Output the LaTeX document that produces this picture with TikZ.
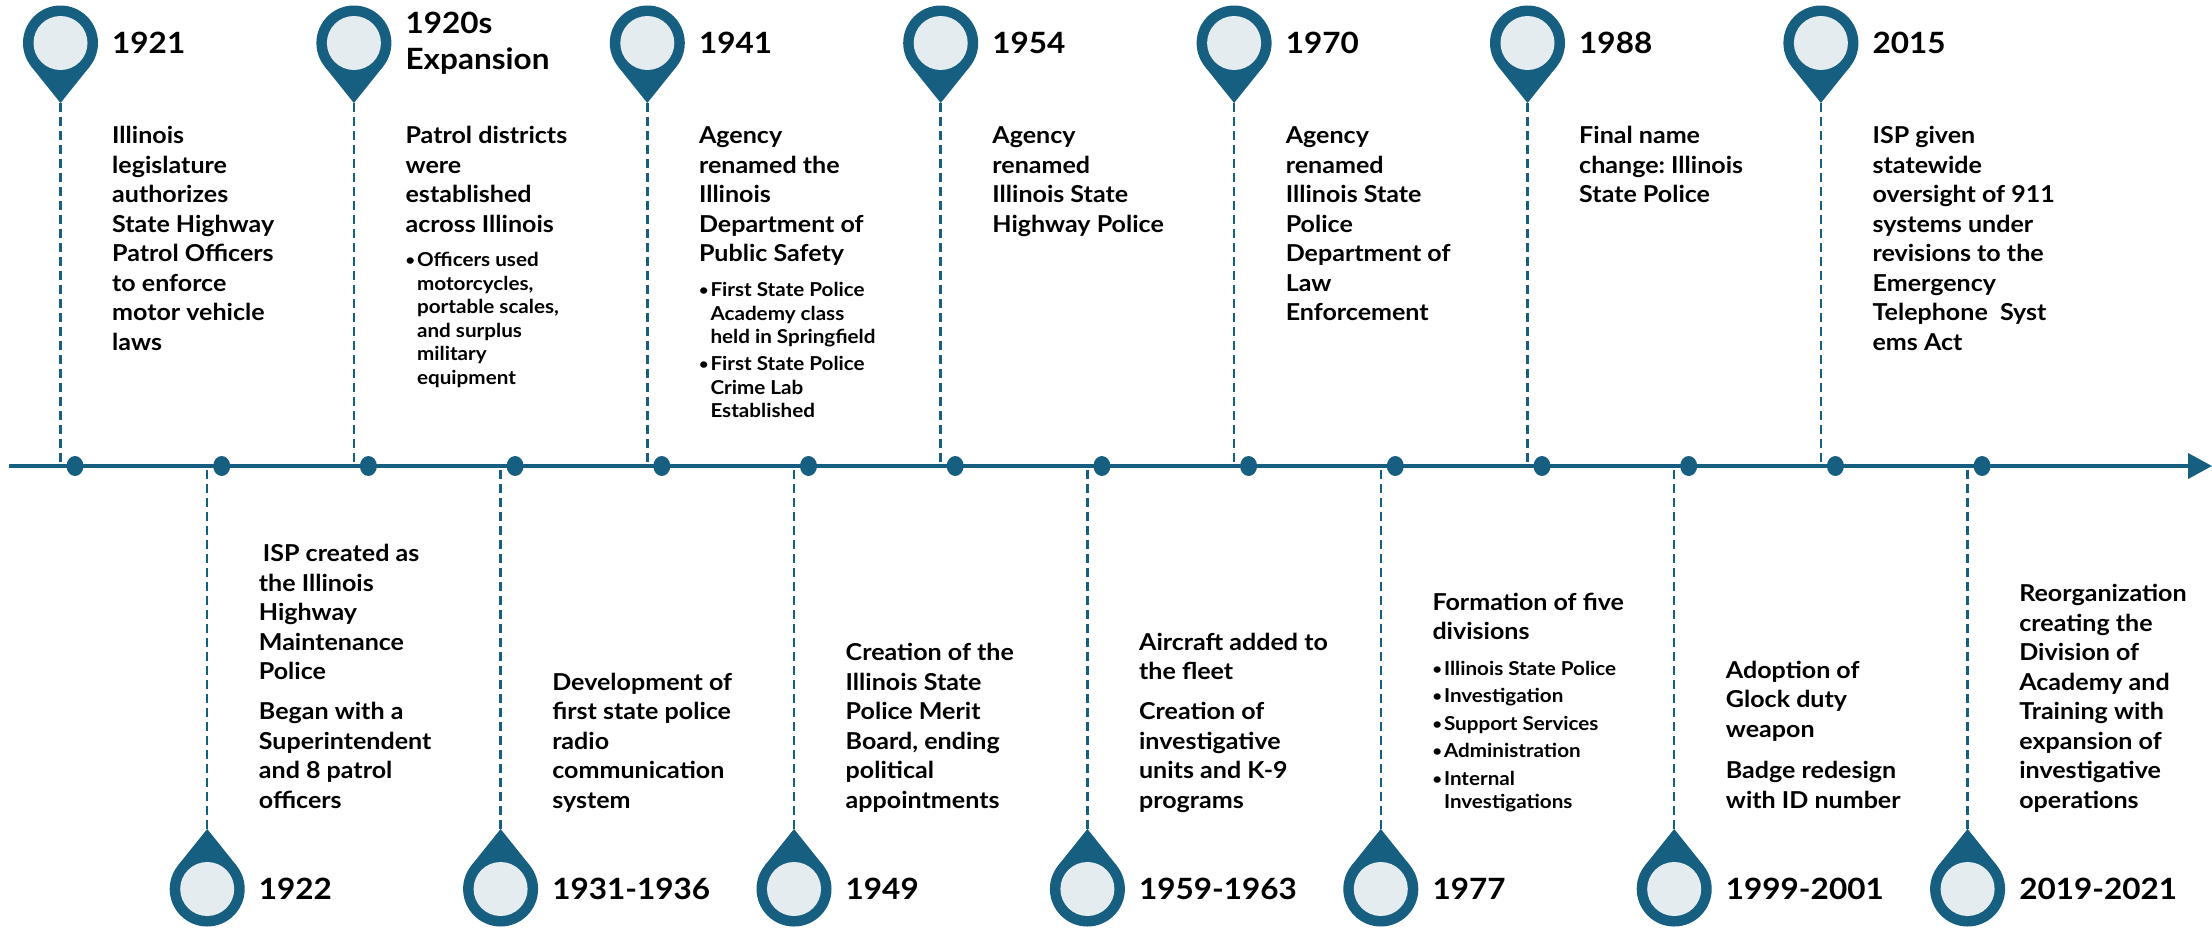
\documentclass[tikz,border=0pt]{standalone}
\usepackage{fontspec}
\setmainfont{Lato}[FakeStretch=1.075]
\frenchspacing
\usetikzlibrary{arrows.meta,shapes.geometric}
\definecolor{ispblue}{RGB}{23,95,128}
\definecolor{ispfill}{RGB}{229,236,240}
\newcommand\yrfont{\fontsize{29.3}{36}\selectfont\bfseries}
\newcommand\bdfont{\fontsize{23.3}{29.5}\selectfont\bfseries}
\newcommand\bufont{\fontsize{19.2}{23.5}\selectfont\bfseries}
\newcommand\bu{\makebox[11.5pt][l]{\raisebox{0.8pt}{\fontsize{15}{0}\selectfont\textbullet}}}
\newcommand\bi{\hspace*{11.5pt}}
\begin{document}
\begin{tikzpicture}[x=1pt,y=-1pt,
  yeartext/.style={anchor=base west,inner sep=0pt,align=left,font=\yrfont},
  bodytext/.style={anchor=base west,inner sep=0pt,align=left,font=\bdfont},
  bullettext/.style={anchor=base west,inner sep=0pt,align=left,font=\bufont},
  linkline/.style={draw=ispblue,line width=2.5pt,dash pattern=on 9pt off 5pt},
  tldot/.style={ellipse,fill=ispblue,minimum width=17pt,minimum height=20pt,inner sep=0pt}]
\useasboundingbox (0,0) rectangle (2212,930);
% main timeline
\coordinate (ls) at (9,466);
\coordinate (le) at (2212,466);
\draw[ispblue,line width=4pt,-{Triangle[length=24pt,width=25pt]}] (ls) -- (le);
% pins, connectors, dots
\foreach \i in {0,...,13}{
  \pgfmathsetmacro\px{60.5+146.7*\i}
  \pgfmathsetmacro\dx{75+146.7*\i}
  \pgfmathtruncatemacro\odd{mod(\i,2)}
  \ifnum\odd=0
    \def\cy{43}\def\dr{1}
  \else
    \def\cy{889}\def\dr{-1}
  \fi
  \pgfmathsetmacro\ty{\cy+60*\dr}
  \pgfmathsetmacro\tgy{\cy+23.44*\dr}
  \coordinate (c\i) at (\px,\cy);
  \coordinate (tip\i) at (\px,\ty);
  \coordinate (tl\i) at (\px-29.28,\tgy);
  \coordinate (tr\i) at (\px+29.28,\tgy);
  \coordinate (b\i) at (\px,466);
  \draw[linkline] (tip\i) -- (b\i);
  \fill[ispblue] (tip\i) -- (tl\i) -- (tr\i) -- cycle;
  \fill[ispblue] (c\i) circle[radius=37.5];
  \fill[ispfill] (c\i) circle[radius=27];
  \node[tldot] (d\i) at (\dx,466) {};
}
% ---------- years (x = pin + 51.5); anchors are at the LAST baseline
\node[yeartext] (y0) at (112,53.5) {1921};
\node[yeartext] (y2) at (405.4,69) {1920s\\Expansion};
\node[yeartext] (y4) at (698.8,53.5) {1941};
\node[yeartext] (y6) at (992.2,53.5) {1954};
\node[yeartext] (y8) at (1285.6,53.5) {1970};
\node[yeartext] (y10) at (1579,53.5) {1988};
\node[yeartext] (y12) at (1872.4,53.5) {2015};
\node[yeartext] (y1) at (258.7,899.5) {1922};
\node[yeartext] (y3) at (552.1,899.5) {1931-1936};
\node[yeartext] (y5) at (845.5,899.5) {1949};
\node[yeartext] (y7) at (1138.9,899.5) {1959-1963};
\node[yeartext] (y9) at (1432.3,899.5) {1977};
\node[yeartext] (y11) at (1725.7,899.5) {1999-2001};
\node[yeartext] (y13) at (2019.1,899.5) {2019-2021};
% ---------- top texts
\node[bodytext] (t0) at (112,350) {Illinois\\legislature\\authorizes\\State Highway\\Patrol Officers\\to enforce\\motor vehicle\\laws};
\node[bodytext] (t2) at (405.4,232) {Patrol districts\\were\\established\\across Illinois};
\node[bullettext] (u2) at (405.4,384) {\bu Officers used\\\bi motorcycles,\\\bi portable scales,\\\bi and surplus\\\bi military\\\bi equipment};
\node[bodytext] (t4) at (698.8,261.5) {Agency\\renamed the\\Illinois\\Department of\\Public Safety};
\node[bullettext] (u4) at (698.8,417.5) {\bu First State Police\\\bi Academy class\\\bi held in Springfield\\[3.5pt]\bu First State Police\\\bi Crime Lab\\\bi Established};
\node[bodytext] (t6) at (992.2,232) {Agency\\renamed\\Illinois State\\Highway Police};
\node[bodytext] (t8) at (1285.6,320.5) {Agency\\renamed\\Illinois State\\Police\\Department of\\Law\\Enforcement};
\node[bodytext] (t10) at (1579,202.5) {Final name\\change: Illinois\\State Police};
\node[bodytext] (t12) at (1872.4,350) {ISP given\\statewide\\oversight of 911\\systems under\\revisions to the\\Emergency\\Telephone~ Syst\\ems Act};
% ---------- bottom texts
\node[bodytext] (t1) at (258.7,679.5) {\hspace*{4pt}ISP created as\\the Illinois\\Highway\\Maintenance\\Police};
\node[bodytext] (s1) at (258.7,808.3) {Began with a\\Superintendent\\and 8 patrol\\officers};
\node[bodytext] (t3) at (552.1,808.3) {Development of\\first state police\\radio\\communication\\system};
\node[bodytext] (t5) at (845.5,808.3) {Creation of the\\Illinois State\\Police Merit\\Board, ending\\political\\appointments};
\node[bodytext] (t7) at (1138.9,679.8) {Aircraft added to\\the fleet};
\node[bodytext] (s7) at (1138.9,808.3) {Creation of\\investigative\\units and K-9\\programs};
\node[bodytext] (t9) at (1432.3,639.8) {Formation of five\\divisions};
\node[bullettext] (u9) at (1432.3,808.5) {\bu Illinois State Police\\[4pt]\bu Investigation\\[4pt]\bu Support Services\\[4pt]\bu Administration\\[4pt]\bu Internal\\\bi Investigations};
\node[bodytext] (t11) at (1725.7,737.3) {Adoption of\\Glock duty\\weapon};
\node[bodytext] (s11) at (1725.7,808.3) {Badge redesign\\with ID number};
\node[bodytext] (t13) at (2019.1,808.3) {Reorganization\\creating the\\Division of\\Academy and\\Training with\\expansion of\\investigative\\operations};
\end{tikzpicture}
\end{document}
